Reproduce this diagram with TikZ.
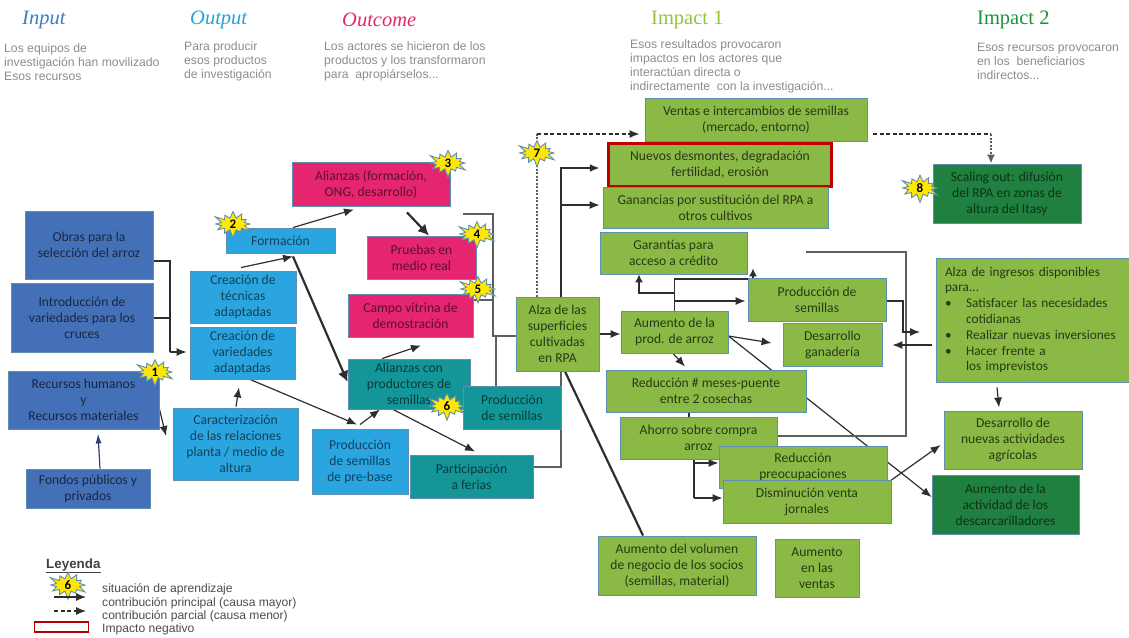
\documentclass[tikz,border=0pt]{standalone}
\usepackage{fontspec}
\setmainfont{Carlito}
\newfontfamily\headfont{Liberation Serif}
\newfontfamily\notefont{Liberation Sans}
\usetikzlibrary{arrows.meta,shapes.symbols,backgrounds}

\definecolor{inputblue}{HTML}{4470B8}
\definecolor{outputblue}{HTML}{2AA5E0}
\definecolor{outcomepink}{HTML}{E5256F}
\definecolor{allianceteal}{HTML}{149598}
\definecolor{impactgreen}{HTML}{8ABA45}
\definecolor{impactdark}{HTML}{1F8040}
\definecolor{boxedge}{HTML}{5F8FB0}
\definecolor{notegray}{HTML}{8C8C8C}
\definecolor{linedark}{HTML}{2E2E2E}
\definecolor{linegray}{HTML}{5E5E5E}

\tikzset{
    box/.style={draw=boxedge, line width=0.9pt, align=center, inner sep=0pt,
        font=\fontsize{13.6}{16}\selectfont},
    inputbox/.style={box, fill=inputblue, text=black!65!inputblue},
    outputbox/.style={box, fill=outputblue, text=black!60!outputblue},
    pinkbox/.style={box, fill=outcomepink, text=black!60!outcomepink},
    tealbox/.style={box, fill=allianceteal, text=black!60!allianceteal},
    greenbox/.style={box, fill=impactgreen, text=black!70!impactgreen},
    darkbox/.style={box, fill=impactdark, text=black!60!impactdark},
    head/.style={anchor=west, inner sep=0pt, font=\headfont\fontsize{20.5}{24}\selectfont},
    note/.style={anchor=west, align=left, inner sep=0pt, text=notegray,
        font=\notefont\fontsize{12.2}{14}\selectfont},
    legendtext/.style={anchor=west, inner sep=0pt, text=black!70,
        font=\notefont\fontsize{12.1}{13}\selectfont},
    burst/.style={starburst, starburst points=12, starburst point height=9pt,
        minimum width=42pt, minimum height=27pt, inner sep=0pt, fill=yellow!90!orange,
        draw=boxedge, line width=0.9pt, font=\bfseries\fontsize{13}{13}\selectfont},
    mainline/.style={draw=linedark, line width=1.2pt, -{Latex[length=10pt,width=8pt]}},
    plainline/.style={draw=linedark, line width=1.2pt},
    heavyline/.style={draw=linedark, line width=2.2pt},
    heavyarrow/.style={heavyline, -{Latex[length=11pt,width=11pt]}},
    grayline/.style={draw=linegray, line width=1.4pt},
    partline/.style={draw=linedark, line width=1.2pt, dash pattern=on 4pt off 2.5pt, -{Latex[length=10pt,width=8pt]}},
    dotline/.style={draw=linegray, line width=1.8pt, dash pattern=on 2pt off 1.5pt},
}

\begin{document}
\begin{tikzpicture}[x=1pt,y=-1pt]
    \useasboundingbox (0,0) rectangle (1129,637);

    % Column heads
    \node[head, text=inputblue!90!cyan, font=\headfont\itshape\fontsize{20.5}{24}\selectfont] (inputhead) at (22,20) {Input};
    \node[head, text=outputblue!90!teal, font=\headfont\itshape\fontsize{20.5}{24}\selectfont] (outputhead) at (190,20) {Output};
    \node[head, text=outcomepink, font=\headfont\itshape\fontsize{20.5}{24}\selectfont] (outcomehead) at (342,20) {Outcome};
    \node[head, text=impactgreen!90!yellow] (impactonehead) at (651,20) {Impact 1};
    \node[head, text=impactdark!85!green] (impacttwohead) at (977,20) {Impact 2};

    \node[note] (inputnote) at (4,62) {Los equipos de\\investigación han movilizado\\Esos recursos};
    \node[note] (outputnote) at (184,61) {Para producir\\esos productos\\de investigación};
    \node[note] (outcomenote) at (324,61) {Los actores se hicieron de los\\productos y los transformaron\\para\ \ apropiárselos...};
    \node[note] (impactonenote) at (630,66.5) {Esos resultados provocaron\\impactos en los actores que\\interactúan directa o\\indirectamente\ \ con la investigación...};
    \node[note] (impacttwonote) at (977,61) {Esos recursos provocaron\\en los\ \ beneficiarios\\indirectos...};

    % Input
    \node[inputbox, minimum width=128, minimum height=68] (obras) at (89,245) {Obras para la\\selección del arroz};
    \node[inputbox, minimum width=142, minimum height=69] (intro) at (82,317.5) {Introducción de\\variedades para los\\cruces};
    \node[inputbox, minimum width=151, minimum height=58] (recursos) at (83.5,400) {Recursos humanos\\y\\Recursos materiales};
    \node[inputbox, minimum width=124, minimum height=39] (fondos) at (88,488.5) {Fondos públicos y\\privados};

    % Output
    \node[outputbox, minimum width=109, minimum height=25] (formacion) at (280.5,240.5) {Formación};
    \node[outputbox, minimum width=106, minimum height=52] (tecnicas) at (243,297) {Creación de\\técnicas\\adaptadas};
    \node[outputbox, minimum width=105, minimum height=52] (variedades) at (242.5,353) {Creación de\\variedades\\adaptadas};
    \node[outputbox, minimum width=125, minimum height=72] (caract) at (235.5,444) {Caracterización\\de las relaciones\\planta / medio de\\altura};
    \node[outputbox, minimum width=96, minimum height=65] (prebase) at (360,461.5) {Producción\\de semillas\\de pre-base};

    % Outcome
    \node[pinkbox, minimum width=158, minimum height=44] (alianzas) at (371,184) {Alianzas (formación,\\ONG, desarrollo)};
    \node[pinkbox, minimum width=109, minimum height=43] (pruebas) at (421.5,257.5) {Pruebas en\\medio real};
    \node[pinkbox, minimum width=125, minimum height=43] (campo) at (410.5,315.5) {Campo vitrina de\\demostración};
    \node[tealbox, minimum width=122, minimum height=50] (aliprod) at (409,384) {Alianzas con\\productores de\\semillas};
    \node[tealbox, minimum width=98, minimum height=43] (prodsem) at (512,407.5) {Producción\\de semillas};
    \node[tealbox, minimum width=123, minimum height=43] (ferias) at (471.5,476.5) {Participación\\a ferias};

    % Impact 1
    \node[greenbox, minimum width=83, minimum height=74] (alza) at (557.5,334) {Alza de las\\superficies\\cultivadas\\en RPA};
    \node[greenbox, minimum width=222, minimum height=43] (ventas) at (756,119.5) {Ventas e intercambios de semillas\\(mercado, entorno)};
    \node[greenbox, draw=red!75!black, line width=3.4pt, minimum width=223, minimum height=43] (nuevos) at (720,165) {Nuevos desmontes, degradación\\fertilidad, erosión};
    \node[greenbox, minimum width=225, minimum height=41] (ganancias) at (715.5,207.5) {Ganancias por sustitución del RPA a\\otros cultivos};
    \node[greenbox, minimum width=147, minimum height=42] (garantias) at (673.5,253) {Garantías para\\acceso a crédito};
    \node[greenbox, minimum width=138, minimum height=43] (semillas) at (817,299.5) {Producción de\\semillas};
    \node[greenbox, minimum width=99, minimum height=43] (ganaderia) at (832.5,344.5) {Desarrollo\\ganadería};
    \node[greenbox, minimum width=107, minimum height=42] (arroz) at (674.5,332) {Aumento de la\\prod. de arroz};
    \node[greenbox, minimum width=200, minimum height=42] (meses) at (706,391) {Reducción \# meses-puente\\entre 2 cosechas};
    \node[greenbox, minimum width=157, minimum height=42] (ahorro) at (698.5,438) {Ahorro sobre compra\\arroz};
    \node[greenbox, minimum width=168, minimum height=42] (preocup) at (803,467) {Reducción\\preocupaciones};
    \node[greenbox, minimum width=168, minimum height=43] (jornales) at (807,501.5) {Disminución venta\\jornales};
    \node[greenbox, minimum width=158, minimum height=59] (volumen) at (677,565.5) {Aumento del volumen\\de negocio de los socios\\(semillas, material)};
    \node[greenbox, minimum width=84, minimum height=58] (vendido) at (817,568) {Aumento\\en las\\ventas};

    % Impact 2
    \node[darkbox, minimum width=148, minimum height=59] (scaling) at (1007,193.5) {Scaling out: difusión\\del RPA en zonas de\\altura del Itasy};
    \node[greenbox, minimum width=193, minimum height=124, align=left, text width=175pt, inner sep=0pt,
        font=\fontsize{13.3}{15.8}\selectfont] (ingresos) at (1032.5,320) {Alza de ingresos disponibles\\para...\\\makebox[21pt][l]{•}Satisfacer las necesidades\\\hspace*{21pt}cotidianas\\\makebox[21pt][l]{•}Realizar nuevas inversiones\\\makebox[21pt][l]{•}Hacer frente a\\\hspace*{21pt}los imprevistos};
    \node[greenbox, minimum width=138, minimum height=58] (agricolas) at (1013,440) {Desarrollo de\\nuevas actividades\\agrícolas};
    \node[darkbox, minimum width=147, minimum height=59] (descarc) at (1005.5,504.5) {Aumento de la\\actividad de los\\descarcarilladores};

    % Learning situations
    \node[burst] (situno) at (155,372) {1};
    \node[burst] (sitdos) at (233,224) {2};
    \node[burst] (sittres) at (448,163) {3};
    \node[burst] (sitcuatro) at (477,234) {4};
    \node[burst] (sitcinco) at (478,289) {5};
    \node[burst] (sitseis) at (447,406) {6};
    \node[burst] (sitsiete) at (537,153) {7};
    \node[burst] (sitocho) at (920,188) {8};

    % Free ends of connectors
    \coordinate (alianzasout) at (463,214);
    \coordinate (framestart) at (806,252);
    \coordinate (semillasout) at (920,332);
    \coordinate (tipcaract) at (166,436);

    \begin{scope}[on background layer]
        % Input to output
        \draw[plainline] (obras.east |- 0,261) -| (170,352);
        \draw[plainline] (intro.east |- 0,318) -- (170,318);
        \draw[mainline] (170,352) -- ([xshift=-3pt]variedades.west |- 0,352);
        \draw[mainline] (recursos.east |- 0,409) -- (tipcaract);
        \draw[draw=inputblue!60!black, line width=1.2pt, -{Latex[length=10pt,width=6pt]}] (fondos.north -| 100,0) -- ([yshift=-4pt]recursos.south -| 98,0);

        % Output to outcome
        \draw[mainline] (formacion.north -| 293,0) -- ([yshift=-3pt]alianzas.south -| 354,0);
        \draw[mainline] ([yshift=3pt]tecnicas.north -| 241,0) -- ([yshift=-3pt]formacion.south -| 293,0);
        \draw[heavyarrow] ([yshift=-3pt]formacion.south -| 293,0) -- (aliprod.west |- 0,382);
        \draw[heavyarrow] ([yshift=-6pt]alianzas.south -| 407,0) -- (pruebas.north -| 429,0);
        \draw[mainline] (aliprod.north -| 382,0) -- ([yshift=-8pt]campo.south -| 421,0);
        \draw[mainline] (variedades.south -| 250,0) -- ([yshift=4pt]prebase.north -| 357,0);
        \draw[mainline] ([yshift=1pt]caract.north -| 236,0) -- ([yshift=-8pt]variedades.south -| 239,0);
        \draw[mainline] ([yshift=4pt]prebase.north -| 360,0) -- (aliprod.south -| 380,0);
        \draw[mainline] (aliprod.south -| 393,0) -- ([yshift=3pt]ferias.north -| 475,0);

        % Outcome to impact
        \draw[grayline] (alianzasout) -| (493,336) -- (alza.west |- 0,336);
        \draw[grayline] (campo.east |- 0,300) -- (493,300);
        \draw[grayline] (prodsem.north -| 496,0) -- (496,336);
        \draw[grayline] (ferias.east |- 0,467) -| (alza.south -| 561,0);

        % Impact 1
        \draw[dotline] (alza.north -| 537,0) -- (537,134);
        \draw[partline] (537,134) -- ([xshift=-5pt]ventas.west |- 0,134);
        \draw[heavyline, -{Latex[length=10pt,width=8pt]}] (alza.north -| 561,0) |- ([xshift=-7pt]nuevos.west |- 0,168);
        \draw[mainline] (561,205) -- ([xshift=-3pt]ganancias.west |- 0,205);
        \draw[mainline] (alza.east) -- (arroz.west |- alza.east);
        \draw[plainline, -{Latex[length=8pt,width=8pt]}] (arroz.north) |- (753,279) -- ([yshift=6pt]garantias.south -| 753,0);
        \draw[plainline, -{Latex[length=8pt,width=8pt]}] (arroz.north |- 0,293) -| (garantias.south -| 639,0);
        \draw[mainline] (arroz.north |- 0,301) -- ([xshift=-2pt]semillas.west |- 0,301);
        \draw[mainline] (arroz.east |- 0,336) -- ([xshift=-11pt]ganaderia.west |- 0,343);
        \draw[mainline] (arroz.east |- 0,336) -- (descarc.west |- 0,497);
        \draw[mainline] (arroz.south -| 673,0) -- ([yshift=3pt]meses.north -| 685,0);
        \draw[plainline] (meses.south -| 689,0) -- (ahorro.north -| 689,0);
        \draw[plainline] (ahorro.south -| 694,0) -- (694,498);
        \draw[mainline] (694,463) -- (preocup.west |- 0,463);
        \draw[mainline] (694,498) -- (jornales.west |- 0,498);
        \draw[mainline] (jornales.east |- 0,480) -- ([xshift=-3pt]agricolas.west |- 0,445);
        \draw[plainline, linegray] (ahorro.east |- 0,436) -| (906,252) -- (framestart);
        \draw[mainline] (semillas.east |- 0,301) -| (903,332) -- (semillasout);
        \draw[mainline] ([xshift=-4pt]ingresos.west |- 0,345) -- ([xshift=10pt]ganaderia.east |- 0,345);
        \draw[mainline] ([yshift=-5pt]ingresos.south -| 997,0) -- ([yshift=3pt]agricolas.north -| 999,0);
        \draw[heavyline] ([xshift=6pt]alza.south -| 559,0) -- (volumen.north -| 643,0);

        % Impact 1 to impact 2
        \draw[partline, -] ([xshift=6pt]ventas.east |- 0,134) -- (991,134);
        \draw[dotline, -{Latex[length=9pt,width=8pt]}] (991,134) -- (scaling.north -| 991,0);
    \end{scope}

    % Legend
    \node[anchor=west, inner sep=0pt, text=black!75, font=\notefont\bfseries\fontsize{13.4}{15}\selectfont] (leyenda) at (46,566) {\underline{Leyenda}};
    \node[burst] (legendburst) at (68,585) {6};
    \node[legendtext] (legendone) at (102,589) {situación de aprendizaje};
    \node[legendtext] (legendtwo) at (102,603) {contribución principal (causa mayor)};
    \node[legendtext] (legendthree) at (102,616) {contribución parcial (causa menor)};
    \node[legendtext] (legendfour) at (102,629) {Impacto negativo};
    \coordinate (mainfrom) at (54,597);
    \coordinate (partfrom) at (54,611);
    \coordinate (mainto) at (86,597);
    \coordinate (partto) at (86,611);
    \draw[mainline] (mainfrom) -- (mainto);
    \draw[partline] (partfrom) -- (partto);
    \node[draw=red!70!black, fill=white, line width=1.2pt, minimum width=54, minimum height=10, inner sep=0pt] (legendred) at (61.5,627) {};
\end{tikzpicture}
\end{document}
